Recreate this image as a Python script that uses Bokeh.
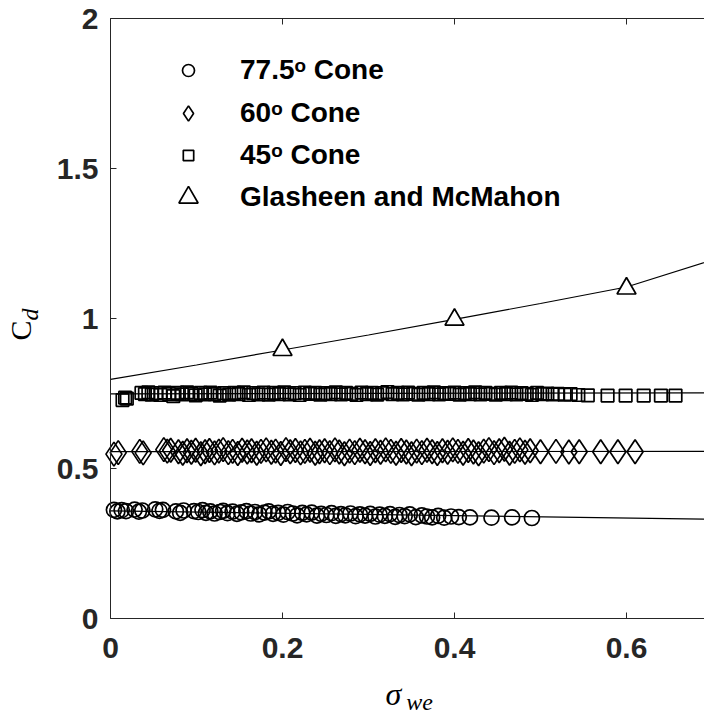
import math
from bokeh.plotting import figure
from bokeh.models import Range1d, FixedTicker, LinearAxis, Legend, LegendItem, Label
from bokeh.embed import file_html
from bokeh.resources import INLINE

# ---------------- data ----------------
x_ticks = [0, 0.2, 0.4, 0.6]
x_tick_labels = ["0", "0.2", "0.4", "0.6"]
y_ticks = [0, 0.5, 1, 1.5, 2]
y_tick_labels = ["0", "0.5", "1", "1.5", "2"]
x_lim = (0, 0.6907)
y_lim = (0, 2)

# 77.5 deg cone
circ_x = [0.004, 0.008, 0.013, 0.018, 0.028, 0.033, 0.037, 0.052, 0.057, 0.061,
          0.076, 0.081, 0.085, 0.097, 0.102, 0.107, 0.111, 0.116, 0.121, 0.127,
          0.131, 0.136, 0.142, 0.147, 0.152, 0.158, 0.163, 0.168, 0.173, 0.179,
          0.184, 0.189, 0.195, 0.201, 0.206, 0.212, 0.217, 0.223, 0.228, 0.234,
          0.240, 0.245, 0.251, 0.257, 0.262, 0.268, 0.273, 0.279, 0.285, 0.290,
          0.296, 0.302, 0.308, 0.313, 0.319, 0.325, 0.331, 0.336, 0.342, 0.348,
          0.355, 0.362, 0.368, 0.374, 0.381, 0.388, 0.396, 0.405, 0.418, 0.443,
          0.467, 0.490]
circ_y = [0.362, 0.357, 0.361, 0.358, 0.363, 0.356, 0.360, 0.364, 0.359, 0.362,
          0.357, 0.352, 0.360, 0.358, 0.355, 0.361, 0.352, 0.357, 0.350, 0.355,
          0.359, 0.351, 0.356, 0.349, 0.354, 0.358, 0.350, 0.355, 0.347, 0.353,
          0.357, 0.349, 0.352, 0.346, 0.355, 0.350, 0.344, 0.352, 0.347, 0.353,
          0.343, 0.349, 0.345, 0.351, 0.342, 0.348, 0.344, 0.350, 0.341, 0.347,
          0.343, 0.349, 0.340, 0.346, 0.342, 0.348, 0.339, 0.345, 0.341, 0.347,
          0.338, 0.344, 0.340, 0.337, 0.342, 0.336, 0.340, 0.338, 0.337, 0.336,
          0.337, 0.335]

# 60 deg cone
dia_x = [0.004, 0.009, 0.034, 0.038, 0.062, 0.066, 0.070, 0.079, 0.084, 0.089,
         0.094, 0.099, 0.105, 0.110, 0.115, 0.121, 0.126, 0.131, 0.137, 0.142,
         0.148, 0.153, 0.159, 0.164, 0.170, 0.175, 0.181, 0.187, 0.192, 0.198,
         0.204, 0.209, 0.215, 0.221, 0.226, 0.232, 0.238, 0.243, 0.249, 0.255,
         0.261, 0.266, 0.272, 0.278, 0.284, 0.290, 0.296, 0.302, 0.308, 0.314,
         0.320, 0.326, 0.332, 0.338, 0.344, 0.350, 0.356, 0.362, 0.368, 0.374,
         0.380, 0.386, 0.392, 0.398, 0.404, 0.410, 0.416, 0.422, 0.428, 0.434,
         0.440, 0.446, 0.452, 0.458, 0.464, 0.470, 0.476, 0.482, 0.488, 0.500,
         0.518, 0.533, 0.545, 0.570, 0.590, 0.610]
dia_y = [0.548, 0.553, 0.557, 0.552, 0.563, 0.558, 0.561, 0.556, 0.551, 0.559,
         0.554, 0.561, 0.549, 0.556, 0.560, 0.552, 0.558, 0.563, 0.553, 0.557,
         0.550, 0.561, 0.555, 0.559, 0.551, 0.557, 0.562, 0.554, 0.558, 0.550,
         0.563, 0.556, 0.560, 0.552, 0.557, 0.561, 0.551, 0.556, 0.559, 0.553,
         0.562, 0.555, 0.549, 0.558, 0.553, 0.561, 0.556, 0.550, 0.559, 0.554,
         0.562, 0.557, 0.551, 0.560, 0.555, 0.549, 0.558, 0.553, 0.561, 0.556,
         0.550, 0.559, 0.554, 0.562, 0.557, 0.551, 0.560, 0.555, 0.549, 0.558,
         0.563, 0.553, 0.559, 0.564, 0.551, 0.557, 0.562, 0.554, 0.559, 0.556,
         0.557, 0.555, 0.556, 0.556, 0.556, 0.556]

# 45 deg cone
sq_x = [0.014, 0.017, 0.019, 0.036, 0.040, 0.044, 0.048, 0.053, 0.058, 0.063,
        0.068, 0.073, 0.078, 0.083, 0.089, 0.094, 0.099, 0.105, 0.110, 0.116,
        0.121, 0.127, 0.132, 0.138, 0.144, 0.149, 0.155, 0.161, 0.166, 0.172,
        0.178, 0.184, 0.190, 0.196, 0.202, 0.208, 0.214, 0.220, 0.226, 0.232,
        0.238, 0.244, 0.250, 0.256, 0.262, 0.268, 0.274, 0.280, 0.286, 0.292,
        0.298, 0.304, 0.310, 0.316, 0.322, 0.328, 0.334, 0.340, 0.346, 0.352,
        0.358, 0.364, 0.370, 0.376, 0.382, 0.388, 0.394, 0.400, 0.406, 0.412,
        0.418, 0.424, 0.430, 0.436, 0.442, 0.448, 0.454, 0.460, 0.466, 0.472,
        0.478, 0.484, 0.490, 0.496, 0.502, 0.508, 0.514, 0.520, 0.528, 0.535,
        0.544, 0.555, 0.578, 0.599, 0.620, 0.640, 0.657]
sq_y = [0.728, 0.736, 0.733, 0.752, 0.748, 0.754, 0.746, 0.751, 0.745, 0.753,
        0.748, 0.741, 0.752, 0.747, 0.754, 0.749, 0.744, 0.752, 0.747, 0.753,
        0.748, 0.743, 0.751, 0.746, 0.752, 0.748, 0.754, 0.745, 0.751, 0.747,
        0.753, 0.746, 0.752, 0.748, 0.754, 0.747, 0.751, 0.745, 0.753, 0.749,
        0.752, 0.746, 0.751, 0.748, 0.754, 0.747, 0.752, 0.749, 0.745, 0.753,
        0.748, 0.752, 0.746, 0.751, 0.755, 0.748, 0.752, 0.747, 0.753, 0.749,
        0.746, 0.752, 0.748, 0.754, 0.747, 0.751, 0.749, 0.753, 0.746, 0.751,
        0.748, 0.754, 0.747, 0.752, 0.749, 0.746, 0.752, 0.748, 0.753, 0.747,
        0.751, 0.749, 0.745, 0.752, 0.748, 0.750, 0.747, 0.749, 0.746, 0.748,
        0.745, 0.744, 0.743, 0.743, 0.743, 0.743, 0.743]

# Glasheen and McMahon
gm_x = [0.2, 0.4, 0.6]
gm_y = [0.895, 0.996, 1.100]

# fitted curves
fit_x = [0.0, 0.7]
fit775_y = [0.359, 0.331]
fit60_y = [0.556, 0.557]
fit45_y = [0.749, 0.752]
gm_fit_x = [0.0, 0.1, 0.2, 0.3, 0.4, 0.5, 0.6, 0.7]
gm_fit_y = [0.797, 0.845, 0.895, 0.945, 0.997, 1.050, 1.105, 1.195]

labels = ["77.5ᵒ Cone", "60ᵒ Cone", "45ᵒ Cone", "Glasheen and McMahon"]

# ---------------- figure ----------------
# The frame covers the whole canvas; the axes sit at fixed data locations so that
# the axis titles (drawn as annotations) are not clipped.
W, H = 704, 715
PX_X, PX_Y = 860.0, 300.0          # pixels per data unit
LEFT, BOTTOM_PAD, TOP = 110, 97, 18  # pixel positions of the axes box
xr = Range1d(x_lim[0] - LEFT / PX_X, x_lim[0] + (W - LEFT) / PX_X)
yr = Range1d(y_lim[0] - BOTTOM_PAD / PX_Y, y_lim[1] + TOP / PX_Y)

TXT = "#262626"
p = figure(width=W, height=H, x_range=xr, y_range=yr,
           output_backend="svg", toolbar_location=None,
           x_axis_location=None, y_axis_location=None,
           min_border_left=0, min_border_right=0, min_border_top=0, min_border_bottom=0,
           outline_line_color=None, background_fill_color="white", border_fill_color="white")
p.title.visible = False
p.grid.visible = False


def make_axis(ticks, tick_labels, fixed, bounds, show_labels=True):
    ax = LinearAxis(fixed_location=fixed, bounds=bounds)
    ax.ticker = FixedTicker(ticks=ticks)
    ax.major_label_overrides = dict(zip(ticks, tick_labels))
    ax.axis_line_color = TXT
    ax.axis_line_width = 1
    ax.major_tick_line_color = TXT
    ax.major_tick_in = 6
    ax.major_tick_out = 0
    ax.minor_tick_in = 0
    ax.minor_tick_out = 0
    ax.major_label_text_font = "Liberation Sans"
    ax.major_label_text_font_style = "bold"
    ax.major_label_text_color = TXT
    if show_labels:
        ax.major_label_text_font_size = "30px"
    else:
        ax.major_label_text_font_size = "0px"
        ax.major_label_standoff = 0
    return ax


xa = make_axis(x_ticks, x_tick_labels, y_lim[0], x_lim)
xa.major_label_standoff = 19
p.add_layout(xa, "below")
ya = make_axis(y_ticks, y_tick_labels, x_lim[0], y_lim)
ya.major_label_standoff = 12
p.add_layout(ya, "left")
ta = make_axis(x_ticks, ["" for _ in x_ticks], y_lim[1], x_lim, show_labels=False)
p.add_layout(ta, "above")

# fit lines
p.line(fit_x, fit775_y, line_color="black", line_width=1.2)
p.line(fit_x, fit60_y, line_color="black", line_width=1.2)
p.line(fit_x, fit45_y, line_color="black", line_width=1.2)
p.line(gm_fit_x, gm_fit_y, line_color="black", line_width=1.2)

# markers
r_c = p.scatter(circ_x, circ_y, marker="circle", size=15, fill_color=None,
                line_color="black", line_width=1.7)
r_d = p.scatter(dia_x, dia_y, marker="diamond", size=24, fill_color=None,
                line_color="black", line_width=1.7)
r_s = p.scatter(sq_x, sq_y, marker="square", size=12.5, fill_color=None,
                line_color="black", line_width=1.7)
r_t = p.scatter(gm_x, gm_y, marker="triangle", size=19, fill_color="white",
                line_color="black", line_width=1.7)

# legend: one Legend per entry so each glyph keeps its own size
legend_specs = [
    # renderer, glyph box width (size/0.4), x, y (screen px from bottom-left), standoff
    (r_c, 30, 173, 620, 37),
    (r_d, 38, 169, 577, 33),
    (r_s, 26, 175, 535, 39),
    (r_t, 48, 164, 493, 28),
]
for (rend, gw, lx, ly, so), lab in zip(legend_specs, labels):
    leg = Legend(items=[LegendItem(label=lab, renderers=[rend])],
                 location=(lx, ly), glyph_width=gw, glyph_height=50, label_height=50,
                 label_standoff=so, padding=0, margin=0, spacing=0,
                 border_line_color=None, background_fill_alpha=0,
                 label_text_font="Liberation Sans", label_text_font_style="bold",
                 label_text_font_size="28px", label_text_color="black")
    p.add_layout(leg)

# axis titles (screen px from bottom-left)
title_specs = [
    # text, x, y, angle, size, style
    ("C", 19.7, 385, math.pi / 2, "30px", "normal"),
    ("d", 29.0, 401, math.pi / 2, "24px", "italic"),
    ("σ", 393, 22, 0, "32px", "italic"),
    ("we", 419, 14, 0, "24px", "italic"),
]
for txt, lx, ly, ang, fs, st in title_specs:
    p.add_layout(Label(x=lx, y=ly, x_units="screen", y_units="screen", text=txt,
                       angle=ang, text_font="Liberation Serif", text_font_style=st,
                       text_font_size=fs, text_align="center", text_baseline="alphabetic",
                       text_color="black"))

open("out.html", "w").write(file_html(p, INLINE))
